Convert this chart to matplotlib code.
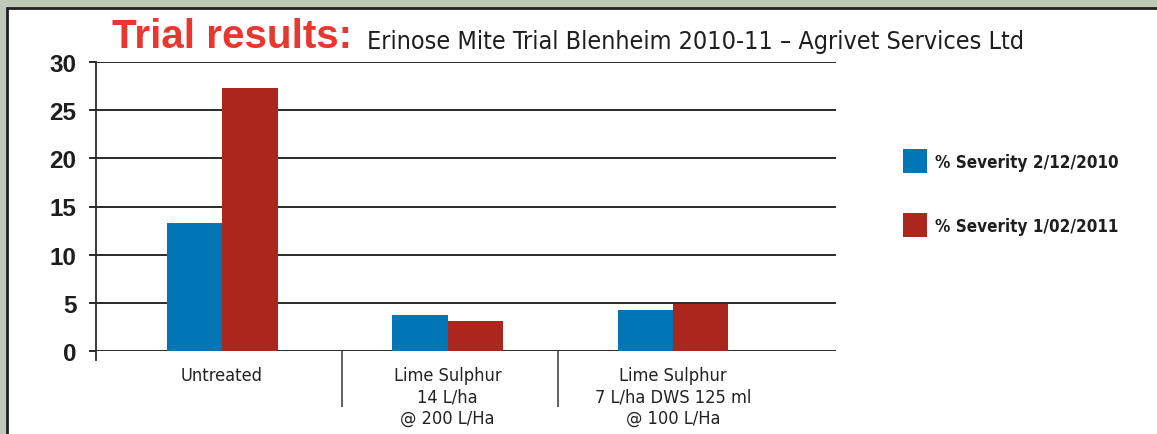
import matplotlib
matplotlib.use('Agg')
import matplotlib.pyplot as plt
from matplotlib import font_manager
from matplotlib.patches import Rectangle
import numpy as np

# Datos do gráfico
categorias = ["Untreated",
              "Lime Sulphur\n14 L/ha\n@ 200 L/Ha",
              "Lime Sulphur\n7 L/ha DWS 125 ml\n@ 100 L/Ha"]
severidade_2010 = [13.3, 3.75, 4.3]
severidade_2011 = [27.3, 3.1, 4.9]
rotulos_series = ["% Severity 2/12/2010", "% Severity 1/02/2011"]
y_ticks = [0, 5, 10, 15, 20, 25, 30]

AZUL = "#0076b6"
VERMELHO = "#ab271e"
W, H = 1157, 435

# fonte estreita, se existir
nomes = {f.name for f in font_manager.fontManager.ttflist}
condensadas = [f for f in font_manager.fontManager.ttflist
               if f.name == "DejaVu Sans" and "condensed" in str(f.stretch)]
if "Liberation Sans Narrow" in nomes:
    NARROW = dict(family=["Liberation Sans Narrow"], stretch="normal")
elif condensadas:
    NARROW = dict(family=["DejaVu Sans"], stretch="condensed")
else:
    NARROW = dict(family=["Liberation Sans", "DejaVu Sans"], stretch="normal")


def px(x, y):
    # pixel (topo-esquerda) -> fração da figura
    return x / W, 1 - y / H


fig = plt.figure(figsize=(W / 100, H / 100), dpi=100)
fig.patch.set_facecolor("#bfc9b8")
renderer = fig.canvas.get_renderer()


def ajusta_largura(t, largura_px):
    # escala a fonte para ocupar a largura da referência
    bb = t.get_window_extent(renderer)
    t.set_fontsize(t.get_fontsize() * largura_px / bb.width)


# painel branco
x0, y0 = px(7, 9)
fig.patches.append(Rectangle((x0, -0.1), 1.2, y0 + 0.1, transform=fig.transFigure,
                             facecolor="white", edgecolor="#222222", linewidth=2.0,
                             zorder=-5))

ax = fig.add_axes([96 / W, 83 / H, 740 / W, 289 / H])
ax.set_facecolor("none")
ax.set_zorder(2)

x = np.arange(len(categorias))
largura = 0.246
ax.bar(x - largura / 2, severidade_2010, largura, color=AZUL, label=rotulos_series[0], zorder=3)
ax.bar(x + largura / 2, severidade_2011, largura, color=VERMELHO, label=rotulos_series[1], zorder=3)

ax.set_xlim(-0.559, 2.723)
ax.set_ylim(0, 30)

# grade horizontal
ax.set_yticks(y_ticks)
ax.yaxis.grid(True, color="#2a2a2a", linewidth=1.4, zorder=1)
ax.set_axisbelow(True)
ax.tick_params(axis="y", length=5, width=1.4, color="#2a2a2a", pad=9)
for lab in ax.get_yticklabels():
    lab.set_fontfamily(["Liberation Sans", "DejaVu Sans"])
    lab.set_fontweight("bold")
    lab.set_fontsize(17.5)
    lab.set_color("#1e1e1e")

# eixo x: rótulos sem marca, separadores longos
ax.set_xticks(x)
xlabs = ax.set_xticklabels(categorias, fontsize=14.5, color="#222222", linespacing=1.22,
                           **NARROW)
ax.tick_params(axis="x", which="major", length=0, pad=11)
ax.set_xticks([0.53, 1.49], minor=True)
ax.tick_params(axis="x", which="minor", length=40, width=1.3, color="#555555",
               direction="out")

for s in ["top", "right", "bottom"]:
    ax.spines[s].set_visible(False)
ax.spines["left"].set_color("#2a2a2a")
ax.spines["left"].set_linewidth(1.3)
ax.spines["left"].set_bounds(-0.9, 30)

# ajusta rótulos do eixo x pela largura do mais largo
fig.canvas.draw()
bb = xlabs[2].get_window_extent(renderer)
escala = 156 / bb.width
for t in xlabs:
    t.set_fontsize(t.get_fontsize() * escala)

# título
tx, ty = px(112, 37)
t1 = fig.text(tx, ty, "Trial results:", color="#e8372e", fontsize=28, fontweight="bold",
              family=["Liberation Sans", "DejaVu Sans"], va="center", ha="left")
ajusta_largura(t1, 240)
sx, sy = px(367, 42)
t2 = fig.text(sx, sy, "Erinose Mite Trial Blenheim 2010-11 \u2013 Agrivet Services Ltd",
              color="#1e1e1e", fontsize=19.5, va="center", ha="left", **NARROW)
ajusta_largura(t2, 658)

# legenda (quadrados + texto)
cores = [AZUL, VERMELHO]
for i, (rot, cor) in enumerate(zip(rotulos_series, cores)):
    topo = 150 + i * 64
    qx, qy = px(903, topo + 24)
    fig.patches.append(Rectangle((qx, qy), 24 / W, 24 / H, transform=fig.transFigure,
                                 facecolor=cor, edgecolor="none", zorder=3))
    lx, ly = px(935, topo + 13)
    t = fig.text(lx, ly, rot, fontsize=15, fontweight="bold", color="#1e1e1e",
                 va="center", ha="left", **NARROW)
    ajusta_largura(t, 184)

fig.savefig("out.png", dpi=100, facecolor=fig.get_facecolor())
